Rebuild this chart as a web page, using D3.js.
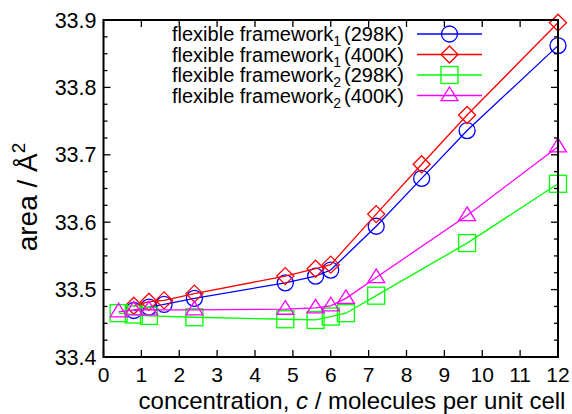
<!DOCTYPE html>
<html lang="en">
<head>
    <meta charset="UTF-8">
    <title>Area vs concentration</title>
    <script src="https://d3js.org/d3.v7.min.js"></script>
    <style>
        body { margin: 0; background: #fff; }
        svg { font-family: "Liberation Sans", Arial, sans-serif; }
    </style>
</head>
<body>
    <svg id="chart"></svg>
    <script>
        const width = 572, height = 414;
        const margin = {left: 103.5, right: 14, top: 20, bottom: 57};

        // values
        const conc1 = [0.8, 1.2, 1.6, 2.4, 4.8, 5.6, 6.0, 7.2, 8.4, 9.6, 12];
        const conc2 = [0.4, 0.8, 1.2, 2.4, 4.8, 5.6, 6.0, 6.4, 7.2, 9.6, 12];
        const ff1_298 = [33.469, 33.474, 33.478, 33.487, 33.510, 33.520, 33.529, 33.594, 33.665, 33.736, 33.862];
        const ff1_400 = [33.476, 33.482, 33.484, 33.494, 33.520, 33.531, 33.537, 33.612, 33.686, 33.759, 33.896];
        const ff2_298 = [33.465, 33.463, 33.461, 33.459, 33.456, 33.455, 33.460, 33.465, 33.491, 33.569, 33.657];
        const ff2_400 = [33.467, 33.470, 33.470, 33.470, 33.471, 33.473, 33.476, 33.487, 33.518, 33.610, 33.712];

        const seriesNames = ["298K", "400K", "298K", "400K"];
        const seriesSub = ["1", "1", "2", "2"];
        const colors = ["#0000ff", "#ff0000", "#00ff00", "#ff00ff"];
        const markers = ["circle", "diamond", "square", "triangle"];

        const series = [
            {x: conc1, y: ff1_298},
            {x: conc1, y: ff1_400},
            {x: conc2, y: ff2_298},
            {x: conc2, y: ff2_400}
        ];

        const xTicks = d3.range(0, 13, 1);
        const yTicks = [33.4, 33.5, 33.6, 33.7, 33.8, 33.9];
        const yMinor = d3.range(33.4, 33.9001, 0.025);

        const svg = d3.select("#chart").attr("width", width).attr("height", height);

        const x = d3.scaleLinear().domain([0, 12]).range([margin.left, width - margin.right]);
        const y = d3.scaleLinear().domain([33.4, 33.9]).range([height - margin.bottom, margin.top]);

        const x0 = x.range()[0], x1 = x.range()[1];
        const y0 = y.range()[0], y1 = y.range()[1];

        // data lines + markers
        function drawMarker(g, type, cx, cy, color) {
            if (type === "circle") {
                g.append("circle").attr("cx", cx).attr("cy", cy).attr("r", 8)
                    .attr("fill", "none").attr("stroke", color).attr("stroke-width", 1.3);
            } else if (type === "diamond") {
                const s = 8.5;
                g.append("path").attr("d", `M${cx},${cy - s}L${cx + s},${cy}L${cx},${cy + s}L${cx - s},${cy}Z`)
                    .attr("fill", "none").attr("stroke", color).attr("stroke-width", 1.3);
            } else if (type === "square") {
                const s = 8.5;
                g.append("rect").attr("x", cx - s).attr("y", cy - s).attr("width", 2 * s).attr("height", 2 * s)
                    .attr("fill", "none").attr("stroke", color).attr("stroke-width", 1.3);
            } else {
                const s = 8.5;
                g.append("path").attr("d", `M${cx},${cy - s}L${cx + s},${cy + s * 0.6}L${cx - s},${cy + s * 0.6}Z`)
                    .attr("fill", "none").attr("stroke", color).attr("stroke-width", 1.3);
            }
        }

        const line = d3.line().x(d => x(d[0])).y(d => y(d[1]));

        series.forEach((s, i) => {
            const pts = s.x.map((v, j) => [v, s.y[j]]);
            svg.append("path").datum(pts).attr("d", line)
                .attr("fill", "none").attr("stroke", colors[i]).attr("stroke-width", 1.3);
            const g = svg.append("g");
            pts.forEach(p => drawMarker(g, markers[i], x(p[0]), y(p[1]), colors[i]));
        });

        // frame + ticks
        const axes = svg.append("g").attr("stroke", "#000");
        axes.append("rect").attr("x", x0).attr("y", y1).attr("width", x1 - x0).attr("height", y0 - y1)
            .attr("fill", "none").attr("stroke-width", 2);

        xTicks.forEach(t => {
            axes.append("line").attr("x1", x(t)).attr("x2", x(t)).attr("y1", y0).attr("y2", y0 - 7).attr("stroke-width", 1.3);
            axes.append("line").attr("x1", x(t)).attr("x2", x(t)).attr("y1", y1).attr("y2", y1 + 7).attr("stroke-width", 1.3);
        });
        yMinor.forEach(t => {
            const major = yTicks.some(m => Math.abs(m - t) < 1e-6);
            const len = major ? 7 : 4;
            axes.append("line").attr("x1", x0).attr("x2", x0 + len).attr("y1", y(t)).attr("y2", y(t)).attr("stroke-width", 1.3);
            axes.append("line").attr("x1", x1).attr("x2", x1 - len).attr("y1", y(t)).attr("y2", y(t)).attr("stroke-width", 1.3);
        });

        // tick labels
        svg.append("g").selectAll("text").data(xTicks).join("text")
            .attr("x", d => x(d)).attr("y", y0 + 25)
            .attr("text-anchor", "middle").attr("font-size", 21)
            .text(d => d);
        svg.append("g").selectAll("text").data(yTicks).join("text")
            .attr("x", x0 - 7).attr("y", d => y(d) + 7.5)
            .attr("text-anchor", "end").attr("font-size", 21.5)
            .text(d => d.toFixed(1));

        // axis titles
        const xl = svg.append("text").attr("x", 352).attr("y", 408.5)
            .attr("text-anchor", "middle").attr("font-size", 24);
        xl.append("tspan").text("concentration, ");
        xl.append("tspan").attr("font-style", "italic").text("c");
        xl.append("tspan").text(" / molecules per unit cell");

        const yl = svg.append("text").attr("transform", "translate(37,197) rotate(-90)")
            .attr("text-anchor", "middle").attr("font-size", 28);
        yl.append("tspan").text("area / Å");
        yl.append("tspan").attr("font-size", 19).attr("dy", -12).text("2");

        // legend
        const legY = [34, 54.5, 75, 95.5];
        seriesNames.forEach((name, i) => {
            const t = svg.append("text").attr("x", 404).attr("y", legY[i] + 7)
                .attr("text-anchor", "end").attr("font-size", 20);
            t.append("tspan").text("flexible framework");
            t.append("tspan").attr("font-size", 14).attr("dy", 5).text(seriesSub[i]);
            t.append("tspan").attr("dy", -5).attr("dx", 3).text("(" + name + ")");
            svg.append("line").attr("x1", 417).attr("x2", 482).attr("y1", legY[i]).attr("y2", legY[i])
                .attr("stroke", colors[i]).attr("stroke-width", 1.3);
            drawMarker(svg.append("g"), markers[i], 449.5, legY[i], colors[i]);
        });
    </script>
</body>
</html>
